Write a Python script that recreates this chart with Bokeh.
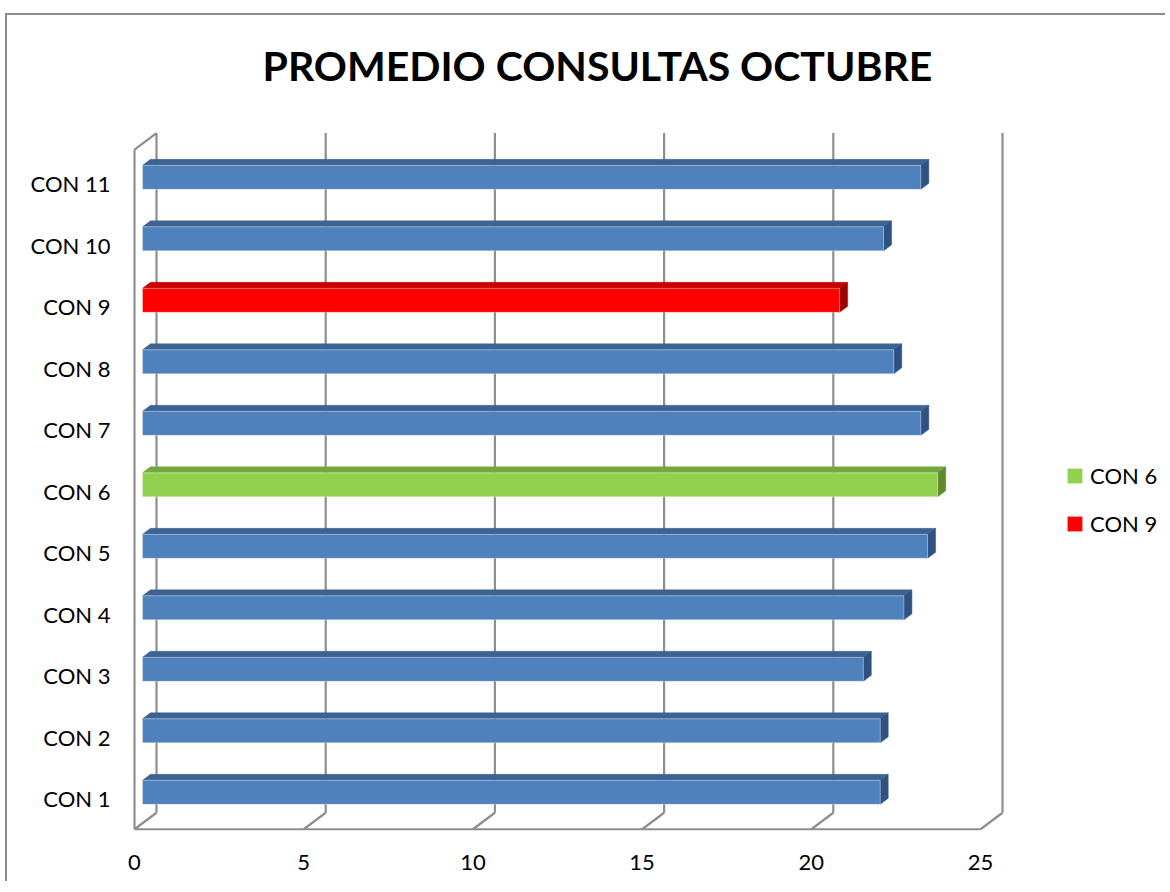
from bokeh.plotting import figure
from bokeh.models import ColumnDataSource, FixedTicker, Legend, LegendItem
from bokeh.embed import file_html
from bokeh.resources import INLINE

# ---------------- data ----------------
categories = ["CON 1", "CON 2", "CON 3", "CON 4", "CON 5", "CON 6",
              "CON 7", "CON 8", "CON 9", "CON 10", "CON 11"]
values = [21.8, 21.8, 21.3, 22.5, 23.2, 23.5, 23.0, 22.2, 20.6, 21.9, 23.0]
x_ticks = [0, 5, 10, 15, 20, 25]
legend_labels = ["CON 6", "CON 9"]
title_text = "PROMEDIO CONSULTAS OCTUBRE"

# ---------------- styles ----------------
BLUE = ("#4f81bd", "#3d6392", "#2f5282")
HIGHLIGHT = {"CON 6": ("#92d050", "#75a73f", "#5f8a30"),
             "CON 9": ("#ff0000", "#c80000", "#a00000")}
WALL = "#8e8e8e"
FONT = "Lato"

# pixel geometry -> data units
PX_X = 33.84
PX_Y = 61.5
wall_dx, wall_dy = 22 / PX_X, 16.5 / PX_Y
bar_dx, bar_dy = 8 / PX_X, 6 / PX_Y
bar_x0 = 8 / PX_X
bar_h = 24 / PX_Y
bar_c = 0.1
floor_y = 0.5
n = len(categories)
wall_top_front = n + 0.553
wall_top_back = wall_top_front + wall_dy
xmax = x_ticks[-1]

W, H = 1160, 868
p = figure(width=W, height=H, output_backend="svg", toolbar_location=None,
           x_range=(-0.3546, 30.526), y_range=(0.3171, 12.350),
           min_border_left=115, min_border_right=0, min_border_top=85,
           min_border_bottom=43,
           styles={"border-left": "2px solid #8c8c8c",
                   "border-top": "2px solid #8c8c8c",
                   "margin-left": "5px", "margin-top": "13px"})
p.outline_line_color = None
p.xgrid.visible = False
p.ygrid.visible = False
p.background_fill_color = "white"
p.border_fill_color = "white"

# ---------------- title ----------------
p.title.text = title_text
p.title.text_font = FONT
p.title.text_font_style = "bold"
p.title.text_font_size = "41px"
p.title.text_color = "black"
p.title.align = "left"
p.title.offset = 140
p.title.standoff = 22

# ---------------- walls / floor ----------------
bx = [t + wall_dx for t in x_ticks]
p.segment(x0=bx, y0=[floor_y + wall_dy] * len(bx), x1=bx,
          y1=[wall_top_back] * len(bx), line_color=WALL, line_width=2.2)
p.segment(x0=x_ticks, y0=[floor_y] * len(x_ticks), x1=bx,
          y1=[floor_y + wall_dy] * len(bx), line_color=WALL, line_width=2.2)
p.segment(x0=[0, 0, 0], y0=[floor_y, floor_y, wall_top_front],
          x1=[xmax, 0, wall_dx], y1=[floor_y, wall_top_front, wall_top_back],
          line_color=WALL, line_width=2.2)

# ---------------- bars ----------------
ys = list(range(1, n + 1))
left = [bar_x0] * n
right = [bar_x0 + v for v in values]
bottom = [y + bar_c - bar_h / 2 for y in ys]
top = [y + bar_c + bar_h / 2 for y in ys]
cols = [HIGHLIGHT.get(c, BLUE) for c in categories]

src = ColumnDataSource(dict(left=left, right=right, bottom=bottom, top=top,
                            front=[c[0] for c in cols]))
top_xs = [[l, l + bar_dx, r + bar_dx, r] for l, r in zip(left, right)]
top_ys = [[t, t + bar_dy, t + bar_dy, t] for t in top]
side_xs = [[r, r, r + bar_dx, r + bar_dx] for r in right]
side_ys = [[b, t, t + bar_dy, b + bar_dy] for b, t in zip(bottom, top)]

p.patches(xs=top_xs, ys=top_ys, fill_color=[c[1] for c in cols],
          line_color=[c[1] for c in cols], line_width=0.5)
p.patches(xs=side_xs, ys=side_ys, fill_color=[c[2] for c in cols],
          line_color=[c[2] for c in cols], line_width=0.5)
r_front = p.quad(left="left", right="right", bottom="bottom", top="top",
                 source=src, fill_color="front", line_color="white",
                 line_alpha=0.35, line_width=1)

# ---------------- axes ----------------
p.yaxis.ticker = FixedTicker(ticks=ys)
p.yaxis.major_label_overrides = {y: c for y, c in zip(ys, categories)}
p.xaxis.ticker = FixedTicker(ticks=x_ticks)
for ax in (p.xaxis, p.yaxis):
    ax.axis_line_color = None
    ax.major_tick_line_color = None
    ax.minor_tick_line_color = None
    ax.major_tick_out = 0
    ax.major_tick_in = 0
    ax.minor_tick_out = 0
    ax.major_label_text_font = FONT
    ax.major_label_text_font_size = "22px"
    ax.major_label_text_color = "black"
p.yaxis.major_label_standoff = 12
p.xaxis.major_label_standoff = 14

# ---------------- legend ----------------
items = [LegendItem(label=lab, renderers=[r_front], index=categories.index(lab))
         for lab in legend_labels]
legend = Legend(items=items, location=(943, 303), padding=0, margin=0,
                border_line_color=None, background_fill_alpha=0,
                glyph_width=19, glyph_height=19, label_height=19,
                spacing=21, label_standoff=6,
                label_text_font=FONT, label_text_font_size="22px",
                label_text_color="black")
p.add_layout(legend)

open("out.html", "w").write(file_html(p, INLINE))
